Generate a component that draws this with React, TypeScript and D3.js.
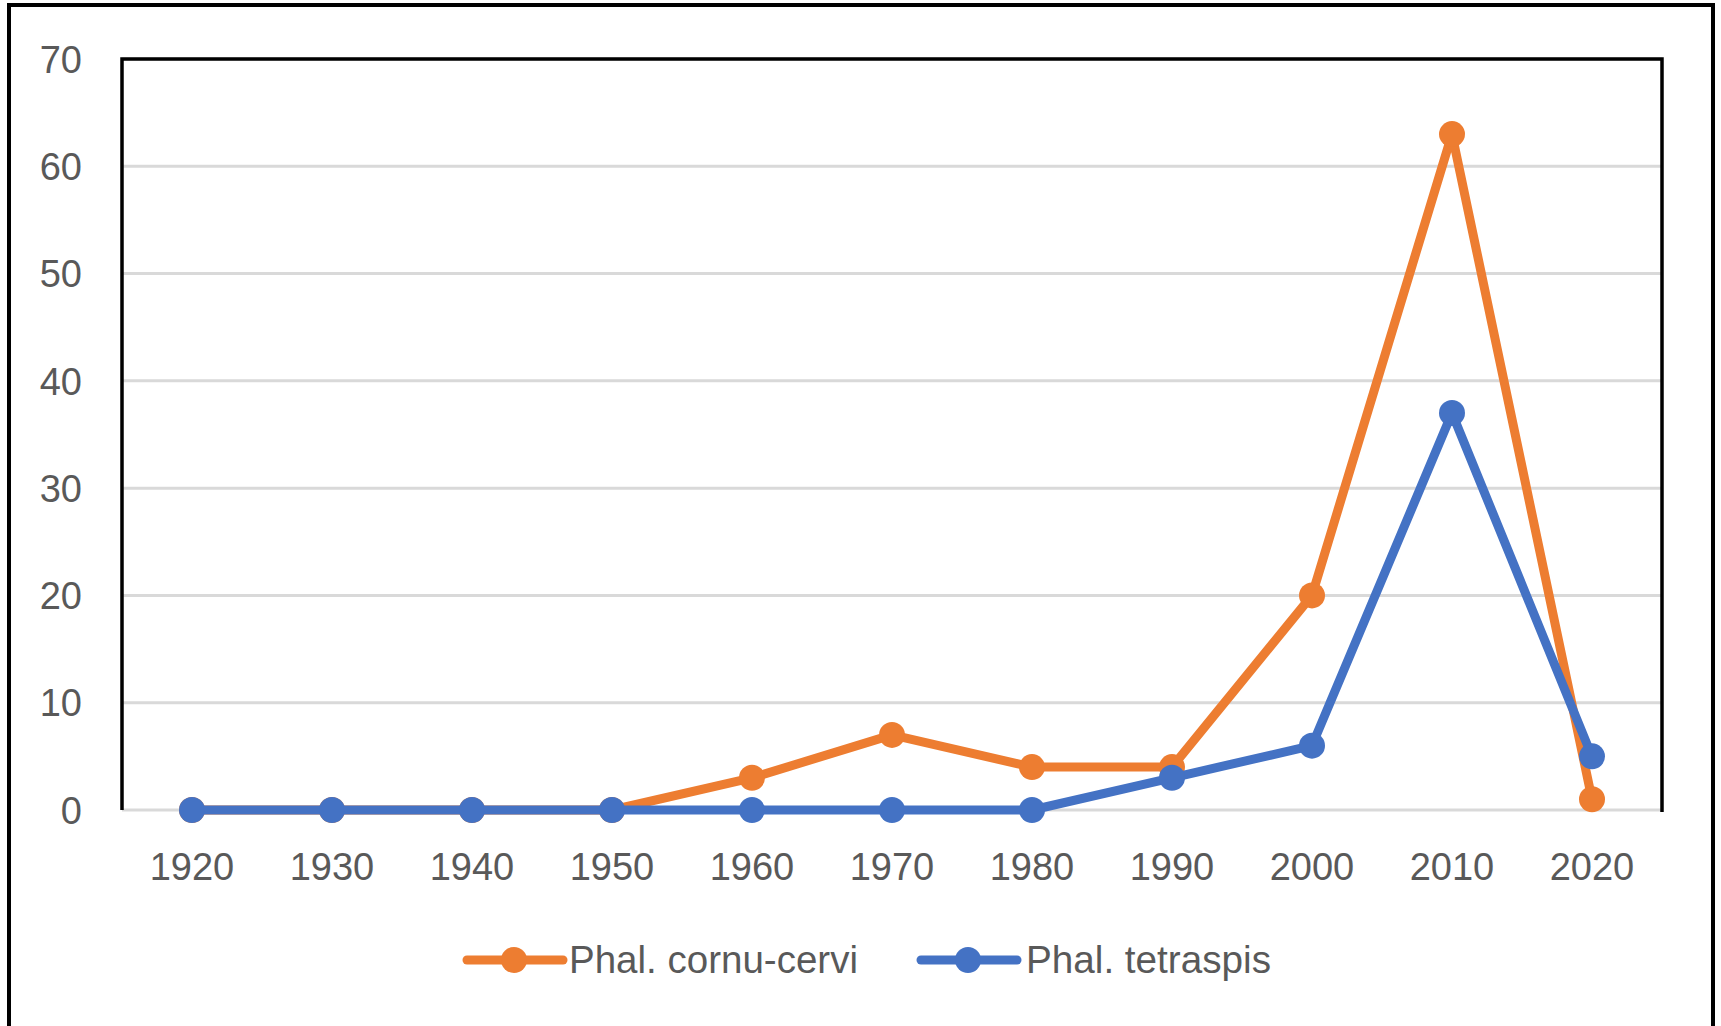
import * as d3 from 'd3';
import React from 'react';

// decades on the category axis
const years = ['1920', '1930', '1940', '1950', '1960', '1970', '1980', '1990', '2000', '2010', '2020'];
const cornuCervi = [0, 0, 0, 0, 3, 7, 4, 4, 20, 63, 1];
const tetraspis = [0, 0, 0, 0, 0, 0, 0, 3, 6, 37, 5];
const yTicks = [0, 10, 20, 30, 40, 50, 60, 70];

const series = [
  { name: 'Phal. cornu-cervi', values: cornuCervi, color: '#ED7D31' },
  { name: 'Phal. tetraspis', values: tetraspis, color: '#4472C4' },
];

const W = 1721;
const H = 1026;
const plot = { left: 122, right: 1662, top: 59, bottom: 810 };
const font = '"Liberation Sans", Arial, sans-serif';
const textColor = '#595959';

export default function App() {
  const x = d3.scaleBand().domain(years).range([plot.left, plot.right]);
  const y = d3.scaleLinear().domain([0, 70]).range([plot.bottom, plot.top]);
  const cx = (yr: string) => (x(yr) ?? 0) + x.bandwidth() / 2;

  const line = d3
    .line<number>()
    .x((_, i) => cx(years[i]))
    .y((d) => y(d));

  // legend layout
  const legend = [
    { x: 467, textX: 569, textW: 289 },
    { x: 921, textX: 1026, textW: 245 },
  ];
  const legendY = 960;

  return (
    <svg
      width={W}
      height={H}
      style={{ position: 'absolute', left: 0, top: 0, background: '#fff' }}
    >
      {/* outer frame */}
      <rect x={9} y={5} width={1704} height={1040} fill="#fff" stroke="#000" strokeWidth={4} />

      {/* gridlines */}
      {yTicks.map((t) => (
        <line key={t} x1={plot.left} x2={plot.right} y1={y(t)} y2={y(t)} stroke="#D9D9D9" strokeWidth={3} />
      ))}

      {/* plot area border: top, left, right */}
      <path
        d={`M${plot.left},${plot.bottom} V${plot.top} H${plot.right} V${plot.bottom + 2}`}
        fill="none"
        stroke="#000"
        strokeWidth={3.5}
      />

      {/* y tick labels */}
      {yTicks.map((t) => (
        <text
          key={t}
          x={82}
          y={y(t)}
          dy="0.36em"
          textAnchor="end"
          fontFamily={font}
          fontSize={38}
          fill={textColor}
        >
          {t}
        </text>
      ))}

      {/* x tick labels */}
      {years.map((yr) => (
        <text
          key={yr}
          x={cx(yr)}
          y={880}
          textAnchor="middle"
          fontFamily={font}
          fontSize={38}
          fill={textColor}
        >
          {yr}
        </text>
      ))}

      {/* series */}
      {series.map((s) => (
        <g key={s.name}>
          <path
            d={line(s.values) ?? ''}
            fill="none"
            stroke={s.color}
            strokeWidth={9}
            strokeLinejoin="round"
            strokeLinecap="round"
          />
          {s.values.map((v, i) => (
            <circle key={i} cx={cx(years[i])} cy={y(v)} r={13} fill={s.color} />
          ))}
        </g>
      ))}

      {/* legend */}
      {series.map((s, i) => (
        <g key={s.name}>
          <line
            x1={legend[i].x}
            x2={legend[i].x + 96}
            y1={legendY}
            y2={legendY}
            stroke={s.color}
            strokeWidth={9}
            strokeLinecap="round"
          />
          <circle cx={legend[i].x + 47} cy={legendY} r={13} fill={s.color} />
          <text
            x={legend[i].textX}
            y={973}
            fontFamily={font}
            fontSize={38}
            fill={textColor}
            textLength={legend[i].textW}
            lengthAdjust="spacingAndGlyphs"
          >
            {s.name}
          </text>
        </g>
      ))}
    </svg>
  );
}
